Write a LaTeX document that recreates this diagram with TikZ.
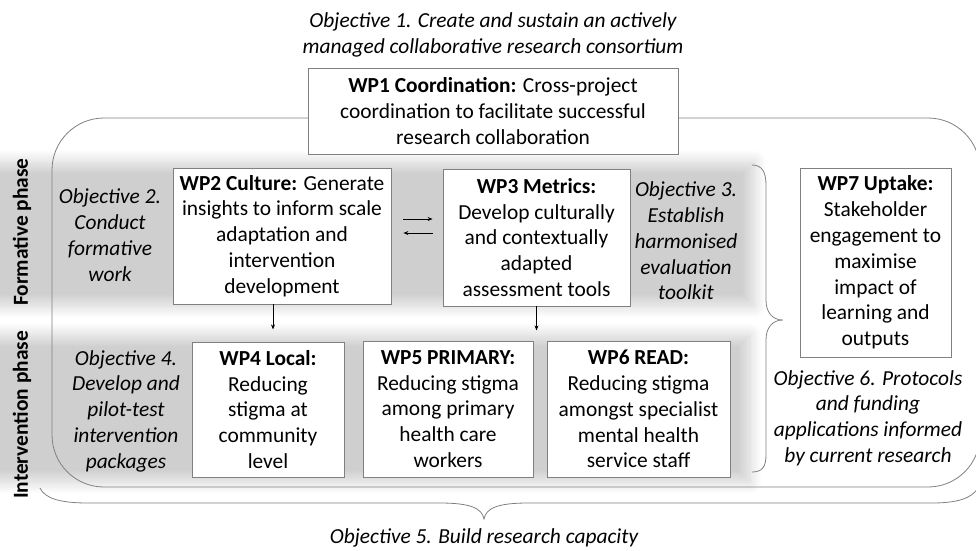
\documentclass[tikz,border=0pt]{standalone}
\usepackage{fontspec}
\setmainfont{Carlito}
\usetikzlibrary{arrows.meta,shadows.blur}
\tikzset{
  txt/.style={font=\fontsize{21.4}{25.8}\selectfont, align=center, inner sep=0pt},
  wpbox/.style={txt, draw=black!50, line width=0.8pt, fill=white},
  obj/.style={txt, font=\fontsize{21.4}{25.8}\selectfont\itshape},
  phase/.style={txt, font=\fontsize{21.4}{25.8}\selectfont\bfseries, rotate=90},
  frame/.style={draw=black!50, line width=0.8pt},
  arr/.style={-{Stealth[length=5pt,width=4pt]}, line width=0.8pt, black},
  band/.style={blur shadow={shadow xshift=0pt, shadow yshift=0pt, shadow blur radius=12pt, shadow blur steps=14, shadow opacity=19}}
}
\begin{document}
\begin{tikzpicture}[x=1pt,y=-1pt]
\useasboundingbox (0,0) rectangle (976,550);
% grey bands
\path[band] (-40,162) rectangle (754,306);
\path[band] (-40,335) rectangle (750,482);
% frame and braces
\draw[frame, rounded corners=52] (52,118) rectangle (980,487);
\draw[frame] (752,165) .. controls (762,165) and (766,172) .. (766,185) -- (766,300)
  .. controls (766,312) and (772,320) .. (783,320)
  .. controls (772,320) and (766,328) .. (766,340) -- (766,455)
  .. controls (766,467) and (762,472) .. (752,472);
\draw[frame] (40,488) .. controls (45,499) and (62,503) .. (88,503) -- (440,503)
  .. controls (470,503) and (482,508) .. (484,519)
  .. controls (486,508) and (498,503) .. (528,503) -- (932,503)
  .. controls (958,503) and (972,498) .. (978,488);
% title
\node[obj] (title) at (493,35) {Objective 1. Create and sustain an actively\\managed collaborative research consortium};
% boxes
\node[wpbox, minimum width=370pt, minimum height=86pt] (wp1) at (493,111)
  {\textbf{WP1 Coordination:} Cross-project\\coordination to facilitate successful\\research collaboration};
\node[wpbox, minimum width=218pt, minimum height=136pt] (wp2) at (282,236)
  {\textbf{WP2 Culture:} Generate\\insights to inform scale\\adaptation and\\intervention\\development};
\node[wpbox, minimum width=187pt, minimum height=137pt] (wp3) at (536.5,237.5)
  {\textbf{WP3 Metrics:}\\Develop culturally\\and contextually\\adapted\\assessment tools};
\node[wpbox, minimum width=152pt, minimum height=135pt] (wp4) at (268,409.5)
  {\textbf{WP4 Local:}\\Reducing\\stigma at\\community\\level};
\node[wpbox, minimum width=170pt, minimum height=136pt] (wp5) at (448,409)
  {\textbf{WP5 PRIMARY:}\\Reducing stigma\\among primary\\health care\\workers};
\node[wpbox, minimum width=183pt, minimum height=136pt] (wp6) at (638.5,409)
  {\textbf{WP6 READ:}\\Reducing stigma\\amongst specialist\\mental health\\service staff};
\node[wpbox, minimum width=151pt, minimum height=189pt] (wp7) at (875.5,262.5)
  {\textbf{WP7 Uptake:}\\Stakeholder\\engagement to\\maximise\\impact of\\learning and\\outputs};
% objectives
\node[obj] (o2) at (110,235) {Objective 2.\\Conduct\\formative\\work};
\node[obj] (o3) at (686,241) {Objective 3.\\Establish\\harmonised\\evaluation\\toolkit};
\node[obj] (o4) at (126,411) {Objective 4.\\Develop and\\pilot-test\\intervention\\packages};
\node[obj] (o6) at (868,418) {Objective 6. Protocols\\and funding\\applications informed\\by current research};
\node[obj] (o5) at (484,538) {Objective 5. Build research capacity};
% phases
\node[phase] (pf) at (22,232) {Formative phase};
\node[phase] (pi) at (22,415) {Intervention phase};
% arrows
\draw[arr] ([xshift=12pt,yshift=17pt]wp2.east) -- ([xshift=-10pt,yshift=18.5pt]wp3.west);
\draw[arr] ([xshift=-10pt,yshift=4.5pt]wp3.west) -- ([xshift=12pt,yshift=3pt]wp2.east);
\draw[arr] ([xshift=-9pt]wp2.south) -- ++(0,25);
\draw[arr] (wp3.south) -- ++(0,24);
\end{tikzpicture}
\end{document}
